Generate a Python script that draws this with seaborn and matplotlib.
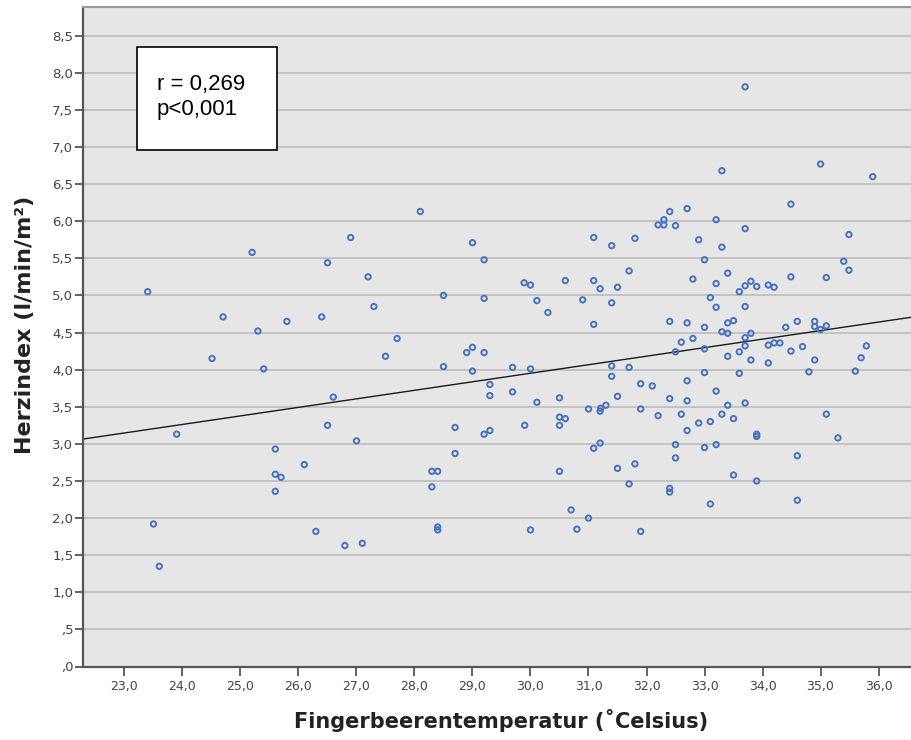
import matplotlib
matplotlib.use("Agg")
import matplotlib.pyplot as plt
import numpy as np
import pandas as pd
import seaborn as sns
from matplotlib.patches import Rectangle

# Fingertip temperature (°C) and cardiac index (l/min/m²) per subject
temperature = [
    23.40, 24.70, 25.20, 25.30, 25.80, 26.40, 26.50, 26.90, 27.20, 27.30,
    28.10, 28.50, 29.00, 29.20, 29.20, 29.89, 30.00, 30.11, 30.30, 30.60,
    30.90, 31.09, 31.09, 31.09, 31.20, 31.40, 31.40, 31.50, 31.80, 31.70,
    33.70, 33.30, 35.00, 35.90, 34.49, 32.70, 32.40, 32.30, 32.20, 32.30,
    32.50, 33.20, 32.90, 33.30, 33.70, 33.00, 35.49, 35.40, 35.49, 35.10,
    34.49, 32.80, 33.40, 33.20, 33.10, 33.20, 33.70, 33.60, 33.70, 33.80,
    33.90, 34.10, 34.20, 32.40, 32.70, 33.00, 33.40, 33.50, 34.40, 34.60,
    34.90, 34.90, 35.00, 35.10, 33.30, 33.40, 33.70, 33.80, 33.70, 33.60,
    33.40, 33.80, 33.00, 32.60, 32.80, 32.50, 34.10, 34.20, 34.30, 34.10,
    34.49, 34.69, 34.90, 34.80, 35.60, 35.70, 35.79, 31.40, 31.40, 31.70,
    31.90, 32.10, 32.70, 33.00, 33.60, 33.20, 32.40, 32.70, 31.50, 31.30,
    31.90, 32.20, 32.60, 32.90, 33.10, 33.30, 33.40, 33.50, 33.70, 32.70,
    35.10, 33.90, 33.90, 35.30, 32.50, 33.00, 33.20, 32.50, 31.20, 31.50,
    31.80, 31.70, 32.40, 32.40, 33.50, 33.90, 34.60, 34.60, 33.10, 31.90,
    27.70, 27.50, 28.50, 28.90, 29.00, 29.20, 29.00, 29.30, 29.30, 29.69,
    30.00, 29.69, 30.11, 30.50, 30.50, 30.60, 30.50, 29.90, 29.20, 29.30,
    28.70, 28.70, 28.30, 28.40, 28.30, 28.40, 28.40, 27.00, 26.80, 27.10,
    30.00, 30.50, 30.70, 30.80, 31.00, 31.00, 31.20, 31.21, 31.09, 24.51,
    25.40, 26.60, 26.50, 23.90, 25.60, 25.60, 25.70, 26.10, 25.60, 23.50,
    23.60, 26.30,
]
cardiac_index = [
    5.05, 4.71, 5.58, 4.52, 4.65, 4.71, 5.44, 5.78, 5.25, 4.85,
    6.13, 5.00, 5.71, 5.48, 4.96, 5.17, 5.14, 4.93, 4.77, 5.20,
    4.94, 5.78, 5.20, 4.61, 5.09, 5.67, 4.90, 5.11, 5.77, 5.33,
    7.81, 6.68, 6.77, 6.60, 6.23, 6.17, 6.13, 6.02, 5.95, 5.95,
    5.94, 6.02, 5.75, 5.65, 5.90, 5.48, 5.82, 5.46, 5.34, 5.24,
    5.25, 5.22, 5.30, 5.16, 4.97, 4.84, 4.85, 5.05, 5.13, 5.19,
    5.12, 5.14, 5.11, 4.65, 4.63, 4.57, 4.63, 4.66, 4.57, 4.65,
    4.65, 4.58, 4.54, 4.59, 4.51, 4.49, 4.43, 4.49, 4.32, 4.24,
    4.18, 4.13, 4.28, 4.37, 4.42, 4.24, 4.33, 4.36, 4.36, 4.09,
    4.25, 4.31, 4.13, 3.97, 3.98, 4.16, 4.32, 4.05, 3.91, 4.03,
    3.81, 3.78, 3.85, 3.96, 3.95, 3.71, 3.61, 3.58, 3.64, 3.52,
    3.47, 3.38, 3.40, 3.28, 3.30, 3.40, 3.52, 3.34, 3.55, 3.18,
    3.40, 3.13, 3.10, 3.08, 2.99, 2.95, 2.99, 2.81, 3.01, 2.67,
    2.73, 2.46, 2.40, 2.35, 2.58, 2.50, 2.84, 2.24, 2.19, 1.82,
    4.42, 4.18, 4.04, 4.23, 4.30, 4.23, 3.98, 3.80, 3.65, 4.03,
    4.01, 3.70, 3.56, 3.62, 3.36, 3.34, 3.25, 3.25, 3.13, 3.18,
    3.22, 2.87, 2.63, 2.63, 2.42, 1.88, 1.84, 3.04, 1.63, 1.66,
    1.84, 2.63, 2.11, 1.85, 2.00, 3.47, 3.44, 3.48, 2.94, 4.15,
    4.01, 3.63, 3.25, 3.13, 2.93, 2.59, 2.55, 2.72, 2.36, 1.92,
    1.35, 1.82,
]

x_ticks = [23.0, 24.0, 25.0, 26.0, 27.0, 28.0, 29.0, 30.0, 31.0, 32.0,
           33.0, 34.0, 35.0, 36.0]
x_tick_labels = ["23,0", "24,0", "25,0", "26,0", "27,0", "28,0", "29,0",
                 "30,0", "31,0", "32,0", "33,0", "34,0", "35,0", "36,0"]
y_ticks = [0.0, 0.5, 1.0, 1.5, 2.0, 2.5, 3.0, 3.5, 4.0, 4.5, 5.0, 5.5,
           6.0, 6.5, 7.0, 7.5, 8.0, 8.5]
y_tick_labels = [",0", ",5", "1,0", "1,5", "2,0", "2,5", "3,0", "3,5",
                 "4,0", "4,5", "5,0", "5,5", "6,0", "6,5", "7,0", "7,5",
                 "8,0", "8,5"]

x_label = "Fingerbeerentemperatur (˚Celsius)"
y_label = "Herzindex (l/min/m²)"
stat_lines = ["r = 0,269", "p<0,001"]

df = pd.DataFrame({"temp": temperature, "ci": cardiac_index})

sns.set_theme(style="ticks")
plt.rcParams["font.family"] = ["DejaVu Sans"]

W, H = 911, 740
fig = plt.figure(figsize=(W / 100, H / 100), dpi=100)
fig.patch.set_facecolor("white")

# axes frame in pixel terms: left 82.7, bottom 666.5, top 6.7, open to the right
left, bottom, top = 82.7, 666.5, 6.7
ax = fig.add_axes([left / W, (H - bottom) / H, (W - left) / W, (bottom - top) / H])
ax.set_facecolor("#e6e6e6")
ax.set_xlim(22.28, 36.56)
ax.set_ylim(0, 8.89)

ax.set_yticks(y_ticks)
ax.set_yticklabels(y_tick_labels)
ax.set_xticks(x_ticks)
ax.set_xticklabels(x_tick_labels)
ax.yaxis.grid(True, color="#bdbdbd", linewidth=1.2)
ax.xaxis.grid(False)
ax.set_axisbelow(True)

blue = "#4672c2"
sns.scatterplot(data=df, x="temp", y="ci", ax=ax, marker="o", s=15,
                color=blue, zorder=3, legend=False)
pts = ax.collections[-1]
pts.set_facecolor("none")
pts.set_edgecolor(blue)
pts.set_linewidth(1.4)

sns.regplot(data=df, x="temp", y="ci", ax=ax, scatter=False, ci=None,
            truncate=False, line_kws=dict(color="#1a1a1a", linewidth=1.0))
ax.set_xlim(22.28, 36.56)

ax.spines["right"].set_visible(False)
ax.spines["top"].set_color("#9a9a9a")
ax.spines["top"].set_linewidth(1.5)
for side in ("left", "bottom"):
    ax.spines[side].set_color("#555555")
    ax.spines[side].set_linewidth(1.6)

ax.tick_params(axis="y", length=5.8, width=1.3, color="#555555", pad=1.0,
               labelsize=9.5, labelcolor="#444444")
ax.tick_params(axis="x", length=6.5, width=1.3, color="#555555", pad=3.5,
               labelsize=9, labelcolor="#444444")

ax.set_xlabel(x_label, fontsize=15, fontweight="bold", color="#222222",
              va="baseline")
ax.xaxis.set_label_coords((501.5 - left) / (W - left), (bottom - 728) / (bottom - top))
ax.set_ylabel(y_label, fontsize=16, fontweight="bold", color="#222222",
              va="center", ha="center")
ax.yaxis.set_label_coords((25 - left) / (W - left), (bottom - 325) / (bottom - top))

# statistics box
box = Rectangle((136.7 / W, (H - 149.7) / H), 140.6 / W, 102.4 / H,
                transform=fig.transFigure, facecolor="white",
                edgecolor="black", linewidth=1.2, zorder=5)
fig.add_artist(box)
for i, line in enumerate(stat_lines):
    fig.text(156.7 / W, (H - 90 - 25 * i) / H, line, fontsize=16,
             family=["Liberation Sans", "DejaVu Sans"], color="black",
             va="baseline", ha="left", zorder=6)

fig.savefig("out.png", dpi=100)
